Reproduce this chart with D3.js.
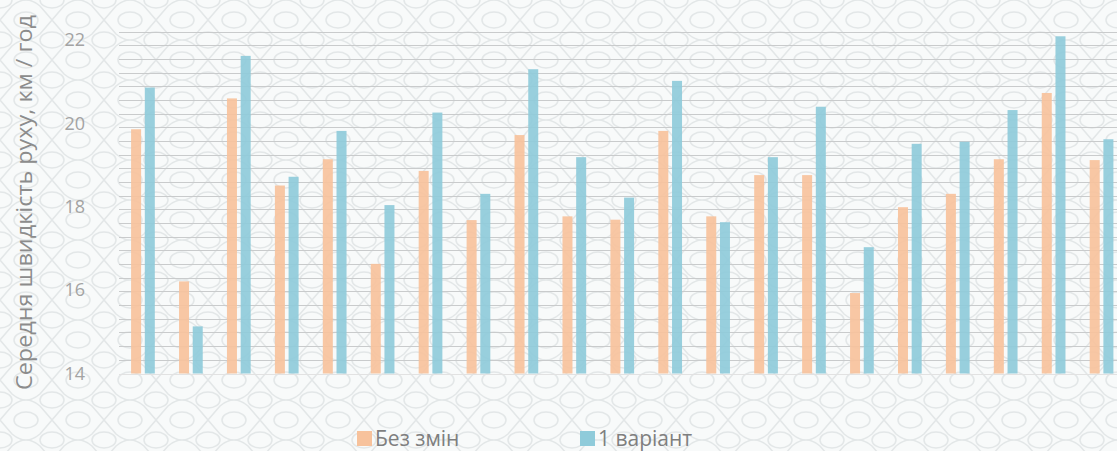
<!DOCTYPE html>
<html>
<head>
<meta charset="utf-8">
<script src="https://cdn.jsdelivr.net/npm/d3@7"></script>
<style>
  body { margin: 0; background: #f7f9fa; overflow: hidden; }
  text { font-family: "Open Sans", sans-serif; }
</style>
</head>
<body>
<div id="my_dataviz"></div>
<script>
// data
var categories = ["1", "2", "3", "4", "5", "6", "7", "8", "9", "10", "11",
                  "12", "13", "14", "15", "16", "17", "18", "19", "20", "21"];
var seriesNames = ["Без змін", "1 варіант"];
var bezZmin = [19.86, 16.21, 20.60, 18.51, 19.14, 16.63, 18.86, 17.68, 19.72, 17.77, 17.69,
               19.82, 17.77, 18.76, 18.76, 15.93, 17.99, 18.31, 19.14, 20.73, 19.12];
var variant1 = [20.86, 15.13, 21.62, 18.72, 19.82, 18.04, 20.26, 18.31, 21.30, 19.19, 18.22,
                21.02, 17.63, 19.19, 20.40, 17.03, 19.51, 19.56, 20.32, 22.09, 19.62];
var yTicks = [14, 16, 18, 20, 22];
var yTitle = "Середня швидкість руху, км / год";

var colors = ["#f7c29c", "#8fcbda"];

// set the dimensions
var width = 1117, height = 451;
var plotLeft = 119, plotTop = 31.7, plotBottom = 373.5, bandStep = 47.93;

var svg = d3.select("#my_dataviz")
    .append("svg")
    .attr("width", width)
    .attr("height", height);

// background lattice texture
var defs = svg.append("defs");
var pat = defs.append("pattern")
    .attr("id", "lattice")
    .attr("patternUnits", "userSpaceOnUse")
    .attr("width", 52)
    .attr("height", 40);
pat.append("rect").attr("width", 52).attr("height", 40).attr("fill", "#f8fafa");
var st = "#e3e7e8";
pat.append("path")
    .attr("d", "M0,20 L12,6 Q26,-6 40,6 L52,20 L40,34 Q26,46 12,34 Z")
    .attr("fill", "none").attr("stroke", st).attr("stroke-width", 1.5);
pat.append("ellipse").attr("cx", 26).attr("cy", 20).attr("rx", 12).attr("ry", 8)
    .attr("fill", "none").attr("stroke", st).attr("stroke-width", 1.5);
[[0, 0], [52, 0], [0, 40], [52, 40]].forEach(function (c) {
    pat.append("ellipse").attr("cx", c[0]).attr("cy", c[1]).attr("rx", 12).attr("ry", 8)
        .attr("fill", "none").attr("stroke", st).attr("stroke-width", 1.5);
});

svg.append("rect")
    .attr("width", width)
    .attr("height", height)
    .attr("fill", "url(#lattice)");

// scales
var x = d3.scaleBand()
    .domain(categories)
    .range([plotLeft, plotLeft + bandStep * categories.length]);

var xSub = d3.scaleBand()
    .domain(seriesNames)
    .range([12.1, 35.8])
    .paddingInner(0.27);

var y = d3.scaleLinear()
    .domain([14, 22.2])
    .range([plotBottom, plotTop]);

// plot area lines
var gridVals = d3.range(26).map(function (k) { return 14 + k * 8.2 / 25; });
svg.append("g")
    .selectAll("line")
    .data(gridVals)
    .enter()
    .append("line")
    .attr("x1", plotLeft)
    .attr("x2", width)
    .attr("y1", function (d) { return Math.round(y(d)) + 0.5; })
    .attr("y2", function (d) { return Math.round(y(d)) + 0.5; })
    .attr("stroke", function (d, i) { return i === 0 ? "#e2e2e2" : "#c9cbcc"; })
    .attr("stroke-width", 1);

// bars
var series = [bezZmin, variant1];
series.forEach(function (vals, s) {
    svg.append("g")
        .selectAll("rect")
        .data(vals)
        .enter()
        .append("rect")
        .attr("x", function (d, i) { return x(categories[i]) + xSub(seriesNames[s]); })
        .attr("y", function (d) { return y(d); })
        .attr("width", xSub.bandwidth())
        .attr("height", function (d) { return y(14) - y(d); })
        .attr("fill", colors[s])
        .attr("fill-opacity", 0.92);
});

// Y axis labels
svg.append("g")
    .selectAll("text")
    .data(yTicks)
    .enter()
    .append("text")
    .attr("x", 85)
    .attr("y", function (d) { return y(d); })
    .attr("dy", "0.35em")
    .attr("text-anchor", "end")
    .attr("font-size", 18)
    .attr("fill", "#a3a3a3")
    .text(function (d) { return d; });

// Y axis title
svg.append("text")
    .attr("transform", "translate(32,202.5) rotate(-90)")
    .attr("text-anchor", "middle")
    .attr("font-size", 22)
    .attr("fill", "#8c8c8c")
    .attr("textLength", 375)
    .attr("lengthAdjust", "spacingAndGlyphs")
    .text(yTitle);

// legend
var legendX = [357, 580];
var legend = svg.append("g")
    .selectAll("g")
    .data(seriesNames)
    .enter()
    .append("g")
    .attr("transform", function (d, i) { return "translate(" + legendX[i] + ",431)"; });
legend.append("rect")
    .attr("width", 15)
    .attr("height", 15)
    .attr("fill", function (d, i) { return colors[i]; });
legend.append("text")
    .attr("x", 18)
    .attr("y", 15)
    .attr("font-size", 21)
    .attr("fill", "#7f7f7f")
    .text(function (d) { return d; });
</script>
</body>
</html>
